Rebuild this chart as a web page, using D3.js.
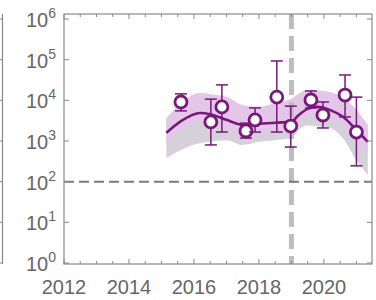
<!DOCTYPE html>
<meta charset="utf-8">
<html>
<head>
  <style type="text/css">
    body{margin:0; background:#fff;}
    text{font-family:"Liberation Sans", Arial, sans-serif; fill:#666;}
  </style>
</head>
<body>
  <script src="https://cdn.jsdelivr.net/npm/d3@7"></script>
  <script>
    // measured points (year, value, error low, error high)
    var years  = [2015.6, 2016.52, 2016.86, 2017.6, 2017.88, 2018.55, 2018.98, 2019.6, 2019.97, 2020.65, 2021.0];
    var values = [9100, 2950, 6900, 1770, 3300, 12000, 2330, 10200, 4360, 13500, 1660];
    var errLo  = [5500, 800, 1660, 1180, 1660, 1660, 710, 6500, 2090, 3900, 245];
    var errHi  = [14400, 10700, 24000, 2750, 6500, 93000, 7200, 17000, 9100, 42000, 12000];

    // fitted curve and bands (log10 values)
    var fitYears  = [2015.15, 2015.6, 2016.2, 2016.5, 2017.0, 2017.5, 2018.0, 2018.5, 2019.0, 2019.2, 2019.5, 2019.8, 2020.2, 2020.6, 2021.0, 2021.35];
    var fitLog    = [3.20, 3.49, 3.69, 3.66, 3.52, 3.40, 3.42, 3.45, 3.47, 3.62, 3.79, 3.84, 3.76, 3.59, 3.27, 2.98];
    var bandHi    = [3.56, 3.93, 4.18, 4.15, 4.08, 3.88, 3.84, 3.93, 4.03, 4.15, 4.25, 4.24, 4.20, 4.06, 3.76, 3.39];
    var bandLo    = [2.58, 2.78, 2.95, 2.98, 3.02, 2.90, 2.98, 3.02, 3.08, 3.25, 3.39, 3.36, 3.32, 3.05, 2.53, 2.16];
    var innerLo   = [2.95, 3.25, 3.45, 3.42, 3.30, 3.15, 3.18, 3.22, 3.25, 3.42, 3.60, 3.62, 3.55, 3.35, 3.00, 2.70];

    var threshold = 100;
    var cutYear = 2019.0;
    var yTicks = [1, 10, 100, 1000, 10000, 100000, 1000000];
    var xMajor = [2012, 2014, 2016, 2018, 2020];
    var xMinor = d3.range(2012, 2021.5, 0.5);

    var width = 376, height = 300;
    var mLeft = 64, mRight = 372, mTop = 14, mBottom = 264;
    var purple = '#76197a';

    var svg = d3.select('body').append('svg')
        .attr('width', width)
        .attr('height', height);

    var x = d3.scaleLinear().domain([2012, 2021.48]).range([mLeft, mRight]);
    var y = d3.scaleLog().domain([Math.pow(10, -0.025), Math.pow(10, 6.123)]).range([mBottom, mTop]);

    // sliver of the neighbouring panel on the left
    svg.append('line').attr('x1', 2.5).attr('x2', 2.5).attr('y1', mTop).attr('y2', mBottom)
      .attr('stroke', '#888').attr('stroke-width', 1.2);
    svg.selectAll('.ltick').data(yTicks).enter().append('line')
      .attr('x1', 0).attr('x2', 2.5)
      .attr('y1', function(d){return y(d)}).attr('y2', function(d){return y(d)})
      .attr('stroke', '#888');

    // bands
    var fit = fitYears.map(function(t, i){
      return {t: t, m: fitLog[i], hi: bandHi[i], lo: bandLo[i], ilo: innerLo[i]};
    });
    var curve = d3.curveMonotoneX;
    svg.append('path').datum(fit)
      .attr('fill', '#d6d0da')
      .attr('d', d3.area().curve(curve)
        .x(function(d){return x(d.t)})
        .y0(function(d){return y(Math.pow(10, d.lo))})
        .y1(function(d){return y(Math.pow(10, d.hi))}));
    svg.append('path').datum(fit)
      .attr('fill', '#e6c4ea').attr('opacity', 0.85)
      .attr('d', d3.area().curve(curve)
        .x(function(d){return x(d.t)})
        .y0(function(d){return y(Math.pow(10, d.ilo))})
        .y1(function(d){return y(Math.pow(10, d.hi))}));

    // reference lines
    svg.append('line')
      .attr('x1', x(cutYear)).attr('x2', x(cutYear)).attr('y1', mTop).attr('y2', mBottom)
      .attr('stroke', '#bdbdbd').attr('stroke-width', 5).attr('stroke-dasharray', '15,7');
    svg.append('line')
      .attr('x1', mLeft).attr('x2', mRight).attr('y1', y(threshold)).attr('y2', y(threshold))
      .attr('stroke', '#7a7a7a').attr('stroke-width', 2).attr('stroke-dasharray', '10,5');

    // fitted line
    svg.append('path').datum(fit)
      .attr('fill', 'none').attr('stroke', purple).attr('stroke-width', 2.6)
      .attr('d', d3.line().curve(curve)
        .x(function(d){return x(d.t)})
        .y(function(d){return y(Math.pow(10, d.m))}));

    // error bars + points
    var pts = years.map(function(t, i){
      return {t: t, v: values[i], lo: errLo[i], hi: errHi[i]};
    });
    var g = svg.selectAll('.pt').data(pts).enter().append('g');
    g.append('line')
      .attr('x1', function(d){return x(d.t)}).attr('x2', function(d){return x(d.t)})
      .attr('y1', function(d){return y(d.lo)}).attr('y2', function(d){return y(d.hi)})
      .attr('stroke', purple).attr('stroke-width', 1.5);
    [ 'lo', 'hi' ].forEach(function(k){
      g.append('line')
        .attr('x1', function(d){return x(d.t) - 6}).attr('x2', function(d){return x(d.t) + 6})
        .attr('y1', function(d){return y(d[k])}).attr('y2', function(d){return y(d[k])})
        .attr('stroke', purple).attr('stroke-width', 1.5);
    });
    g.append('circle')
      .attr('cx', function(d){return x(d.t)}).attr('cy', function(d){return y(d.v)})
      .attr('r', 6)
      .attr('fill', '#fff').attr('stroke', purple).attr('stroke-width', 2.8);

    // frame
    svg.append('rect')
      .attr('x', mLeft).attr('y', mTop).attr('width', mRight - mLeft).attr('height', mBottom - mTop)
      .attr('fill', 'none').attr('stroke', '#8a8a8a').attr('stroke-width', 1.2);

    // y ticks both sides
    svg.selectAll('.yl').data(yTicks).enter().append('line')
      .attr('x1', mLeft).attr('x2', mLeft + 5)
      .attr('y1', function(d){return y(d)}).attr('y2', function(d){return y(d)})
      .attr('stroke', '#8a8a8a');
    svg.selectAll('.yr').data(yTicks).enter().append('line')
      .attr('x1', mRight - 5).attr('x2', mRight)
      .attr('y1', function(d){return y(d)}).attr('y2', function(d){return y(d)})
      .attr('stroke', '#8a8a8a');

    // x ticks top and bottom
    [mBottom, mTop].forEach(function(b){
      var dir = b == mBottom ? -1 : 1;
      svg.selectAll(null).data(xMinor).enter().append('line')
        .attr('x1', function(d){return x(d)}).attr('x2', function(d){return x(d)})
        .attr('y1', b)
        .attr('y2', function(d){return b + dir * (xMajor.indexOf(d) >= 0 ? 5 : 3)})
        .attr('stroke', '#8a8a8a');
    });

    // y labels
    var yl = svg.selectAll('.ylab').data(yTicks).enter().append('text')
      .attr('x', 56).attr('y', function(d){return y(d) + 8})
      .attr('text-anchor', 'end')
      .style('font-size', '20px');
    yl.append('tspan').text('10');
    yl.append('tspan')
      .attr('dy', -9).style('font-size', '14px')
      .text(function(d){return Math.round(Math.log10(d))});

    // x labels
    svg.selectAll('.xlab').data(xMajor).enter().append('text')
      .attr('x', function(d){return x(d)}).attr('y', 294)
      .attr('text-anchor', 'middle')
      .style('font-size', '20px')
      .text(function(d){return d});
  </script>
</body>
</html>
